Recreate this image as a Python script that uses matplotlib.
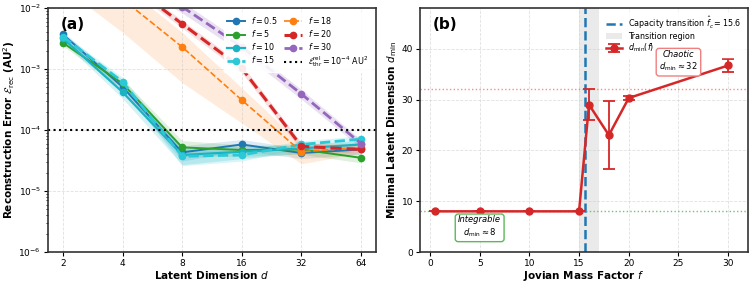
import numpy as np
import matplotlib
matplotlib.use("Agg")
import matplotlib.pyplot as plt

# ---- panel (a) data: reconstruction error vs latent dimension ----
dims = [2, 4, 8, 16, 32, 64]
f_labels = ["0.5", "5", "10", "15", "18", "20", "30"]
err_f05 = [3.7e-3, 5.1e-4, 4.3e-5, 5.8e-5, 4.2e-5, 4.8e-5]
err_f5 = [2.7e-3, 5.8e-4, 5.2e-5, 4.7e-5, 4.8e-5, 3.5e-5]
err_f10 = [3.2e-3, 4.2e-4, 3.9e-5, 4.4e-5, 5.0e-5, 5.8e-5]
err_f15 = [3.4e-3, 6.2e-4, 3.7e-5, 3.9e-5, 5.8e-5, 7.1e-5]
err_f18 = [8.0e-2, 1.4e-2, 2.3e-3, 3.1e-4, 4.4e-5, 5.2e-5]
err_f20 = [1.5e-1, 3.0e-2, 5.5e-3, 1.03e-3, 5.4e-5, 4.8e-5]
err_f30 = [1.5e-1, 4.0e-2, 1.05e-2, 2.3e-3, 3.9e-4, 6.0e-5]
std_f05 = [4e-4, 8e-5, 1.2e-5, 1.2e-5, 8e-6, 8e-6]
std_f5 = [3e-4, 1.0e-4, 1.5e-5, 1.0e-5, 8e-6, 6e-6]
std_f10 = [4e-4, 9e-5, 1.2e-5, 1.0e-5, 8e-6, 1.0e-5]
std_f15 = [4e-4, 1.1e-4, 1.1e-5, 8e-6, 8e-6, 1.0e-5]
std_f18 = [5.8e-2, 1.0e-2, 1.7e-3, 1.8e-4, 1.6e-5, 1.0e-5]
std_f20 = [2.0e-2, 4.5e-3, 8e-4, 1.6e-4, 8e-6, 6e-6]
std_f30 = [3.0e-2, 8e-3, 2.2e-3, 4.5e-4, 7e-5, 9e-6]
threshold = 1e-4

# ---- panel (b) data: minimal latent dimension vs mass factor ----
mass_f = [0.5, 5, 10, 15, 16, 18, 20, 30]
d_min = [8, 8, 8, 8, 29, 23, 30.3, 36.7]
d_min_err = [0, 0, 0, 0, 3.0, 6.7, 0.4, 1.2]
f_c = 15.6
trans_lo, trans_hi = 15.0, 17.0

plt.rcParams['font.family'] = ['DejaVu Sans']
plt.rcParams['mathtext.fontset'] = 'dejavusans'

fig = plt.figure(figsize=(7.53, 2.88), dpi=100)
ax1 = fig.add_axes([0.0637, 0.125, 0.4356, 0.847])
ax2 = fig.add_axes([0.5578, 0.125, 0.4356, 0.847])

errs = [err_f05, err_f5, err_f10, err_f15, err_f18, err_f20, err_f30]
stds = [std_f05, std_f5, std_f10, std_f15, std_f18, std_f20, std_f30]
colors = ['#1f77b4', '#2ca02c', '#1ab3c4', '#2bc8d8', '#ff7f0e', '#d62728', '#9467bd']
styles = ['-', '-', '-', '--', '--', '--', '--']
widths = [1.4, 1.4, 1.6, 2.0, 1.2, 2.2, 2.0]
band_alpha = [0.15, 0.15, 0.18, 0.18, 0.15, 0.15, 0.2]

for lab, e, s, c, ls, lw, ba in zip(f_labels, errs, stds, colors, styles, widths, band_alpha):
    e = np.array(e)
    s = np.array(s)
    lo = np.clip(e - s, 1e-7, None)
    ax1.fill_between(dims, lo, e + s, color=c, alpha=ba, lw=0)
    ax1.plot(dims, e, ls=ls, color=c, lw=lw, marker='o', ms=4.5,
             label=f'$f = {lab}$')

ax1.axhline(threshold, color='black', ls=':', lw=1.5,
            label=r'$\mathcal{E}_{\rm thr}^{\rm rel} = 10^{-4}$ AU$^2$')
ax1.set_xscale('log', base=2)
ax1.set_yscale('log')
ax1.set_xlim(2 ** 0.75, 2 ** 6.25)
ax1.set_ylim(1e-6, 1e-2)
ax1.set_xticks(dims)
ax1.set_xticklabels([str(d) for d in dims])
ax1.set_xlabel('Latent Dimension $d$', fontsize=7.5, fontweight='bold', labelpad=1)
ax1.set_ylabel(r'Reconstruction Error $\mathcal{E}_{\rm rec}$ (AU$^2$)',
               fontsize=7.5, fontweight='bold', labelpad=1)
ax1.grid(True, which='major', ls='--', color='#cccccc', alpha=0.6, lw=0.6)
ax1.text(0.04, 0.965, '(a)', transform=ax1.transAxes, fontsize=11,
         fontweight='bold', va='top')
ax1.legend(loc='upper right', ncol=2, fontsize=5.8, frameon=True,
           framealpha=0.9, edgecolor='white', handlelength=2.2,
           columnspacing=0.8, labelspacing=0.25, borderpad=0.4)

# ---- panel (b) ----
ax2.axvspan(trans_lo, trans_hi, color='#d9d9d9', alpha=0.55, lw=0,
            label='Transition region')
ax2.axvline(f_c, color='#1f77b4', ls='--', lw=1.8,
            label=r'Capacity transition $\hat{f}_c = 15.6$')
ax2.axhline(32, color='#ff6b6b', ls=':', lw=1.0, alpha=0.8)
ax2.axhline(8, color='#55b055', ls=':', lw=1.0, alpha=0.8)
ax2.errorbar(mass_f, d_min, yerr=d_min_err, color='#d62728', marker='o',
             ms=5, lw=1.8, capsize=4, capthick=1.3, elinewidth=1.3,
             label=r'$d_{\min}(f)$', zorder=5)

ax2.text(25.0, 37.5, 'Chaotic\n' + r'$d_{\min} \approx 32$', ha='center',
         va='center', fontsize=6, style='italic', zorder=10,
         bbox=dict(boxstyle='round,pad=0.35', fc='white', ec='#f08080', lw=1.0))
ax2.text(5.0, 4.9, 'Integrable\n' + r'$d_{\min} \approx 8$', ha='center',
         va='center', fontsize=6, style='italic', zorder=10,
         bbox=dict(boxstyle='round,pad=0.35', fc='white', ec='#5cb85c', lw=1.0))

ax2.set_xlim(-1, 32)
ax2.set_ylim(0, 48)
ax2.set_xticks([0, 5, 10, 15, 20, 25, 30])
ax2.set_yticks([0, 10, 20, 30, 40])
ax2.set_xlabel('Jovian Mass Factor $f$', fontsize=7.5, fontweight='bold', labelpad=1)
ax2.set_ylabel(r'Minimal Latent Dimension $d_{\min}$', fontsize=7.5,
               fontweight='bold', labelpad=2)
ax2.grid(True, ls='--', color='#cccccc', alpha=0.6, lw=0.6)
ax2.text(0.04, 0.965, '(b)', transform=ax2.transAxes, fontsize=11,
         fontweight='bold', va='top')
h, l = ax2.get_legend_handles_labels()
order = [1, 0, 2]
ax2.legend([h[i] for i in order], [l[i] for i in order], loc='upper right',
           fontsize=5.8, frameon=True, framealpha=0.9, edgecolor='white',
           labelspacing=0.12, borderpad=0.3, handlelength=2.0)

for ax in (ax1, ax2):
    ax.tick_params(labelsize=6.5, length=3, width=0.8, pad=2)
    ax.tick_params(which='minor', length=1.5, width=0.6)
    for sp in ax.spines.values():
        sp.set_linewidth(1.2)
        sp.set_color('#333333')

fig.savefig('out.png', dpi=100)
